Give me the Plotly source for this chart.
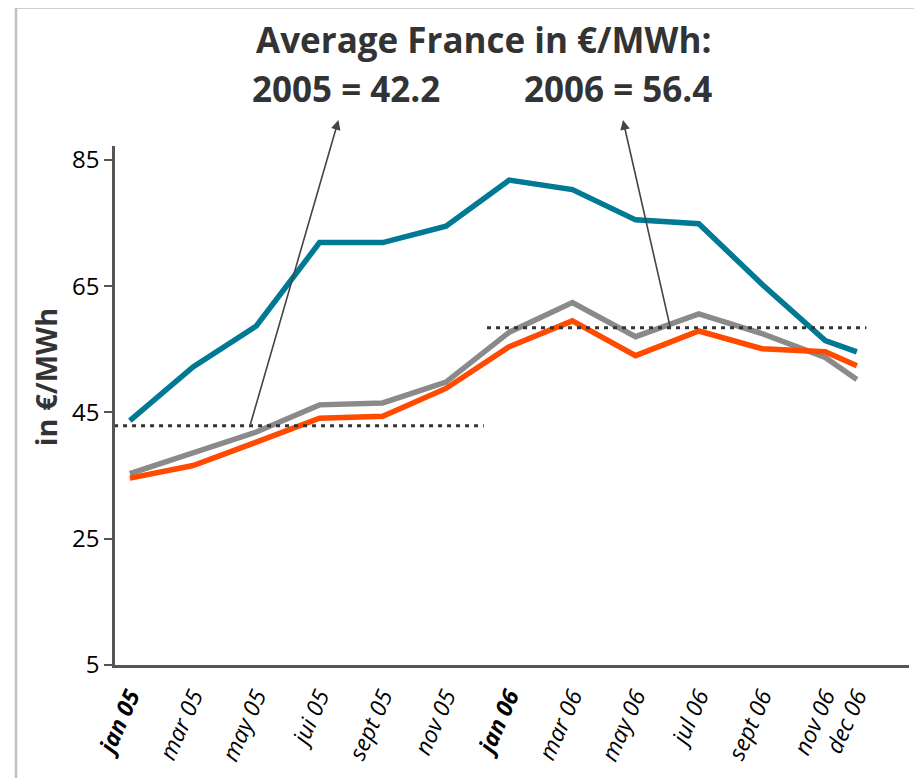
import plotly.graph_objects as go

# month index from jan 05 (0) to dec 06 (23)
months = [0, 2, 4, 6, 8, 10, 12, 14, 16, 18, 20, 22, 23]
tick_labels = ["<b>jan 05</b>", "mar 05", "may 05", "jui 05", "sept 05", "nov 05",
               "<b>jan 06</b>", "mar 06", "may 06", "jul 06", "sept 06", "nov 06", "dec 06"]

blue = [43.7, 52.2, 58.7, 71.9, 71.9, 74.5, 81.8, 80.3, 75.5, 74.9, 65.3, 56.4, 54.6]
grey = [35.3, 38.5, 41.9, 46.2, 46.5, 49.8, 57.7, 62.4, 57.0, 60.6, 57.5, 53.7, 50.2]
orange = [34.6, 36.6, 40.3, 44.1, 44.4, 48.8, 55.4, 59.5, 54.0, 57.9, 55.1, 54.6, 52.4]

avg_2005_x = [-0.5, 11.2]
avg_2005_y = [42.9, 42.9]
avg_2006_x = [11.3, 23.3]
avg_2006_y = [58.4, 58.4]

FONT = "Open Sans"
DARK = "#333333"

fig = go.Figure()
fig.add_trace(go.Scatter(x=months, y=grey, mode="lines",
                         line=dict(color="#8a8a8a", width=5.5)))
fig.add_trace(go.Scatter(x=months, y=orange, mode="lines",
                         line=dict(color="#ff4a00", width=5.5)))
fig.add_trace(go.Scatter(x=months, y=blue, mode="lines",
                         line=dict(color="#007a94", width=5.5)))
for xs, ys in [(avg_2005_x, avg_2005_y), (avg_2006_x, avg_2006_y)]:
    fig.add_trace(go.Scatter(x=xs, y=ys, mode="lines",
                             line=dict(color=DARK, width=3, dash="4px,5px")))

# arrows from the average lines up to the labels
fig.add_annotation(x=6.6, y=91.3, ax=3.8, ay=avg_2005_y[0], axref="x", ayref="y",
                   xref="x", yref="y", text="", showarrow=True, arrowhead=2,
                   arrowsize=1.2, arrowwidth=1.6, arrowcolor="#444444")
fig.add_annotation(x=15.6, y=91.3, ax=17.1, ay=avg_2006_y[0], axref="x", ayref="y",
                   xref="x", yref="y", text="", showarrow=True, arrowhead=2,
                   arrowsize=1.2, arrowwidth=1.6, arrowcolor="#444444")

title_font = dict(family=FONT, size=35, color=DARK)
fig.add_annotation(text="<b>Average France in €/MWh:</b>", xref="paper", yref="paper",
                   x=0.4635, y=1.2054, xanchor="center", yanchor="middle",
                   showarrow=False, font=title_font)
fig.add_annotation(text="<b>2005 = 42.2</b>", xref="paper", yref="paper",
                   x=0.291, y=1.1113, xanchor="center", yanchor="middle",
                   showarrow=False, font=title_font)
fig.add_annotation(text="<b>2006 = 56.4</b>", xref="paper", yref="paper",
                   x=0.633, y=1.1113, xanchor="center", yanchor="middle",
                   showarrow=False, font=title_font)
fig.add_annotation(text="<b>in €/MWh</b>", xref="paper", yref="paper",
                   x=-0.088, y=0.5547, xanchor="center", yanchor="middle",
                   textangle=-90, showarrow=False,
                   font=dict(family=FONT, size=29, color=DARK))

# light frame at the top and left of the picture
fig.add_shape(type="line", xref="paper", yref="paper", x0=-0.1247, x1=1.02,
              y0=1.2668, y1=1.2668, line=dict(color="#c0c0c0", width=2.5))
fig.add_shape(type="line", xref="paper", yref="paper", x0=-0.1247, x1=-0.1247,
              y0=1.2668, y1=-0.22, line=dict(color="#c0c0c0", width=2.5))

fig.update_layout(
    width=914, height=770,
    margin=dict(l=107, r=13, t=138, b=111),
    plot_bgcolor="white", paper_bgcolor="white",
    showlegend=False,
    font=dict(family=FONT, color="black"),
    xaxis=dict(range=[-0.47, 24.65], tickvals=months, ticktext=[f"<i>{t}</i>" for t in tick_labels],
               tickangle=-66, showgrid=False, zeroline=False, showline=True,
               linecolor="#555555", linewidth=2.5, ticks="", tickfont=dict(size=23),
               ticklabelstandoff=6),
    yaxis=dict(range=[5, 87.2], tickvals=[5, 25, 45, 65, 85], showgrid=False,
               zeroline=False, showline=True, linecolor="#555555", linewidth=2.5,
               ticks="outside", ticklen=8, tickcolor="#555555", tickwidth=1.5,
               tickfont=dict(size=24)),
    yaxis2=dict(range=[5, 87.2], tickvals=[5, 25, 45, 65, 85], overlaying="y",
                showticklabels=False, showgrid=False, zeroline=False,
                ticks="inside", ticklen=8, tickcolor="#555555", tickwidth=1.5),
)

fig.write_html("out.html")
